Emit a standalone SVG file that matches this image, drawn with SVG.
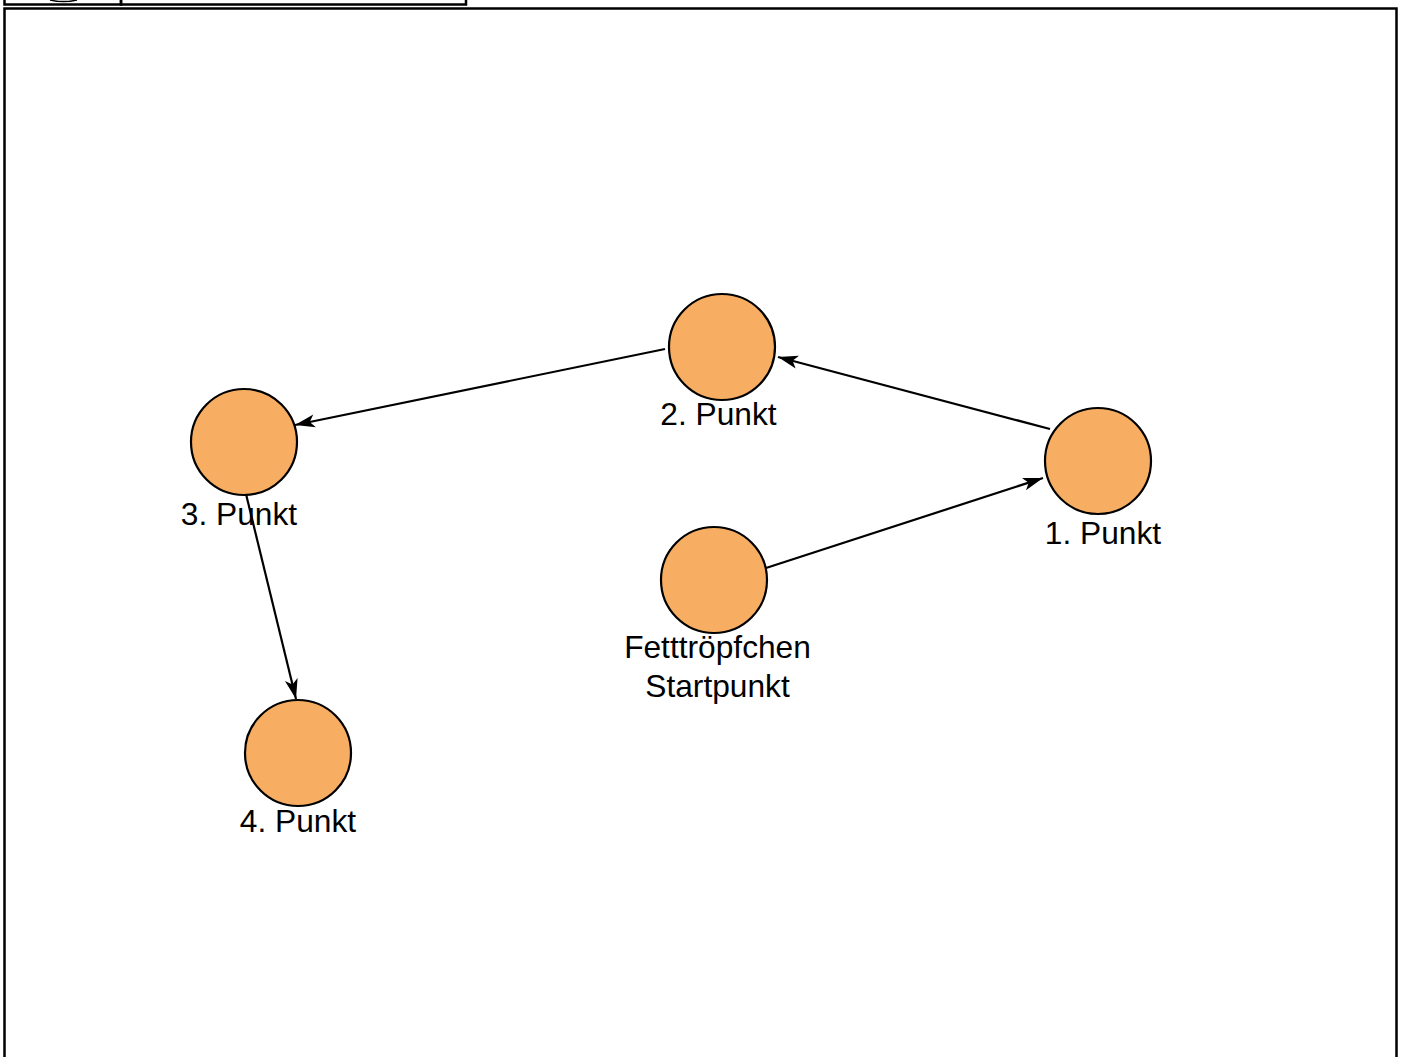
<svg xmlns="http://www.w3.org/2000/svg" width="1403" height="1057" viewBox="0 0 1403 1057">
  <style>
    .node circle { fill: #f7ae63; stroke: #000; stroke-width: 2.2; }
    .lbl { font-family: "Liberation Sans", Arial, sans-serif; font-size: 31.7px; fill: #000; text-anchor: middle; }
    .edge { stroke: #000; stroke-width: 2.2; fill: none; marker-end: url(#arrow); }
    .frame { fill: none; stroke: #000; stroke-width: 2.5; }
  </style>
  <defs>
    <marker id="arrow" markerUnits="userSpaceOnUse" markerWidth="22" markerHeight="16" viewBox="0 0 22 16" refX="20" refY="8" orient="auto" overflow="visible">
      <path d="M0,1.5 L20,8 L0,14.5 L5,8 Z" fill="#000"/>
    </marker>
  </defs>
  <rect width="1403" height="1057" fill="#fff"/>
  <g id="frame">
    <rect class="frame" x="4.5" y="-20" width="116.5" height="24.5"/>
    <rect class="frame" x="121" y="-20" width="345" height="24.5"/>
    <path d="M50,0 Q63.5,3.2 77,0" fill="none" stroke="#000" stroke-width="1.5"/>
    <rect class="frame" x="4.5" y="8.5" width="1392" height="1070"/>
  </g>
  <g id="start" class="node">
    <circle cx="714" cy="580" r="53"/>
    <text class="lbl" x="717.5" y="658">Fetttröpfchen</text>
    <text class="lbl" x="717.5" y="697">Startpunkt</text>
  </g>
  <g id="p1" class="node">
    <circle cx="1098" cy="461" r="53"/>
    <text class="lbl" x="1103" y="544">1. Punkt</text>
  </g>
  <g id="p2" class="node">
    <circle cx="722" cy="347" r="53"/>
    <text class="lbl" x="718.5" y="425">2. Punkt</text>
  </g>
  <g id="p3" class="node">
    <circle cx="244" cy="442" r="53"/>
    <text class="lbl" x="239" y="525">3. Punkt</text>
  </g>
  <g id="p4" class="node">
    <circle cx="298" cy="753" r="53"/>
    <text class="lbl" x="298" y="832">4. Punkt</text>
  </g>
  <g id="connectors">
    <line class="edge" x1="766" y1="568" x2="1043" y2="478"/>
    <line class="edge" x1="1050" y1="429" x2="778" y2="357"/>
    <line class="edge" x1="665" y1="349" x2="295" y2="425"/>
    <line class="edge" x1="246" y1="494" x2="296" y2="699"/>
  </g>
</svg>
